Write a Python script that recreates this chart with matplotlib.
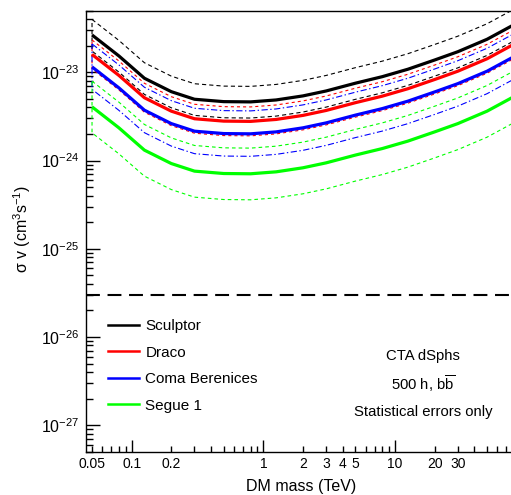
import numpy as np
import matplotlib
matplotlib.use('Agg')
import matplotlib.pyplot as plt
from matplotlib.lines import Line2D
from matplotlib.ticker import LogLocator, FixedLocator, FuncFormatter, NullFormatter

plt.rcParams['font.family'] = ['Liberation Sans', 'DejaVu Sans']
plt.rcParams['mathtext.fontset'] = 'custom'
plt.rcParams['mathtext.rm'] = 'Liberation Sans'
plt.rcParams['mathtext.it'] = 'Liberation Sans:italic'
plt.rcParams['lines.scale_dashes'] = False

# DM mass points (TeV)
mass = [0.05, 0.08, 0.125, 0.2, 0.3, 0.5, 0.8, 1.25, 2, 3, 5, 8, 12.5, 20, 30, 50, 80]

# log10(sigma v)
sculptor = [-22.576, -22.814, -23.067, -23.219, -23.305, -23.332, -23.335, -23.313, -23.267,
            -23.211, -23.123, -23.049, -22.965, -22.860, -22.766, -22.625, -22.460]
sculptor_hi = [-22.400, -22.638, -22.891, -23.043, -23.129, -23.156, -23.159, -23.137, -23.091,
               -23.035, -22.947, -22.873, -22.789, -22.684, -22.590, -22.449, -22.284]
sculptor_lo = [-22.759, -22.997, -23.250, -23.402, -23.488, -23.515, -23.518, -23.496, -23.450,
               -23.394, -23.306, -23.232, -23.148, -23.043, -22.949, -22.808, -22.643]

draco = [-22.797, -23.035, -23.288, -23.440, -23.526, -23.553, -23.556, -23.534, -23.488,
         -23.432, -23.344, -23.270, -23.186, -23.081, -22.987, -22.846, -22.681]
draco_hi = [-22.633, -22.871, -23.124, -23.276, -23.362, -23.389, -23.392, -23.370, -23.324,
            -23.268, -23.180, -23.106, -23.022, -22.917, -22.823, -22.682, -22.517]
draco_lo = [-22.961, -23.199, -23.452, -23.604, -23.690, -23.717, -23.720, -23.698, -23.652,
            -23.596, -23.508, -23.434, -23.350, -23.245, -23.151, -23.010, -22.845]

coma = [-22.938, -23.176, -23.429, -23.581, -23.667, -23.694, -23.697, -23.675, -23.629,
        -23.573, -23.485, -23.411, -23.327, -23.222, -23.128, -22.987, -22.822]
coma_hi = [-22.678, -22.916, -23.169, -23.321, -23.407, -23.434, -23.437, -23.415, -23.369,
           -23.313, -23.225, -23.151, -23.067, -22.962, -22.868, -22.727, -22.562]
coma_lo = [-23.193, -23.431, -23.684, -23.836, -23.922, -23.949, -23.952, -23.930, -23.884,
           -23.828, -23.740, -23.666, -23.582, -23.477, -23.383, -23.242, -23.077]

segue = [-23.391, -23.629, -23.882, -24.034, -24.120, -24.147, -24.150, -24.128, -24.082,
         -24.026, -23.938, -23.864, -23.780, -23.675, -23.581, -23.440, -23.275]
segue_hi = [-23.100, -23.338, -23.591, -23.743, -23.829, -23.856, -23.859, -23.837, -23.791,
            -23.735, -23.647, -23.573, -23.489, -23.384, -23.290, -23.149, -22.984]
segue_lo = [-23.686, -23.924, -24.177, -24.329, -24.415, -24.442, -24.445, -24.423, -24.377,
            -24.321, -24.233, -24.159, -24.075, -23.970, -23.876, -23.735, -23.570]

thermal = 3e-26

names = ['Sculptor', 'Draco', 'Coma Berenices', 'Segue 1']
colors = ['black', '#ff0000', '#0000ff', '#00ff00']
band_styles = [(0, (3.0, 2.2)), (0, (2.2, 2.2)), (0, (4.5, 1.8, 1.0, 1.8)), (0, (2.6, 2.2))]

fig = plt.figure(figsize=(5.11, 4.95), dpi=100)
W, H = 511.0, 495.0
ax = fig.add_axes([86 / W, 43.3 / H, 440.7 / W, 441 / H])

curves = [(sculptor, sculptor_hi, sculptor_lo), (draco, draco_hi, draco_lo),
          (coma, coma_hi, coma_lo), (segue, segue_hi, segue_lo)]

m = np.array(mass)
for (mid, hi, lo), c, ls in zip(curves, colors, band_styles):
    # band outline drawn as a closed polygon, like the original
    xs = np.concatenate([m, m[::-1], m[:1]])
    ys = 10 ** np.concatenate([hi, lo[::-1], hi[:1]])
    ax.plot(xs, ys, color=c, lw=0.8, linestyle=ls)
for (mid, hi, lo), c in zip(curves, colors):
    ax.plot(m, 10 ** np.array(mid), color=c, lw=2.3, solid_capstyle='butt')

ax.axhline(thermal, color='black', lw=1.5, linestyle=(0, (10, 5.5)))

ax.set_xscale('log')
ax.set_yscale('log')
ax.set_xlim(0.045, 100)
ax.set_ylim(5e-28, 5e-23)

ax.spines['right'].set_visible(False)
for s in ['left', 'bottom', 'top']:
    ax.spines[s].set_linewidth(1.0)

xlabels = {0.05: '0.05', 0.1: '0.1', 0.2: '0.2', 1: '1', 2: '2', 3: '3', 4: '4', 5: '5',
           10: '10', 20: '20', 30: '30'}

def xfmt(v, pos):
    for k, t in xlabels.items():
        if abs(v - k) / k < 1e-6:
            return t
    return ''

ax.xaxis.set_major_locator(FixedLocator([0.1, 1, 10]))
ax.xaxis.set_minor_locator(FixedLocator([k * d for d in [0.01, 0.1, 1, 10] for k in range(2, 10)
                                         if 0.045 <= k * d <= 100]))
ax.xaxis.set_major_formatter(FuncFormatter(xfmt))
ax.xaxis.set_minor_formatter(FuncFormatter(xfmt))

ydec = [1e-27, 1e-26, 1e-25, 1e-24, 1e-23]
ax.yaxis.set_major_locator(FixedLocator(ydec))
ax.yaxis.set_minor_locator(FixedLocator([k * d for d in [1e-28] + ydec for k in range(2, 10)
                                         if 5e-28 <= k * d <= 5e-23]))
ax.yaxis.set_major_formatter(FuncFormatter(lambda v, p: r'$\mathregular{10^{%d}}$' % round(np.log10(v))))
ax.yaxis.set_minor_formatter(NullFormatter())

ax.tick_params(axis='x', which='major', direction='in', length=8.5, width=1.0, labelsize=10, pad=4)
ax.tick_params(axis='x', which='minor', direction='in', length=4.3, width=1.0, labelsize=10, pad=4)
ax.tick_params(axis='y', which='major', direction='in', length=10, width=1.0, labelsize=11.5, pad=5)
ax.tick_params(axis='y', which='minor', direction='in', length=5, width=1.0)
ax.tick_params(top=False, right=False, which='both')

fig.text(301 / W, 1 - 486 / H, 'DM mass (TeV)', ha='center', va='center', fontsize=11.5)
fig.text(22 / W, 1 - 229 / H, r'$\mathregular{\sigma\ v\ (cm^{3}s^{-1})}$', ha='center', va='center',
         rotation=90, fontsize=11.5)

handles = [Line2D([], [], color=c, lw=1.8) for c in colors]
ax.legend(handles, names, loc='upper left', bbox_to_anchor=(108 / W, 1 - 319 / H),
          bbox_transform=fig.transFigure, frameon=False, fontsize=11, handlelength=2.0,
          handletextpad=0.45, labelspacing=0.82, borderpad=0, borderaxespad=0)

fig.text(423 / W, 1 - 356 / H, 'CTA dSphs', ha='center', va='center', fontsize=10.7)
fig.text(423 / W, 1 - 384 / H, r'500 h, b$\mathregular{\overline{b}}$', ha='center', va='center', fontsize=10.7)
fig.text(423 / W, 1 - 412 / H, 'Statistical errors only', ha='center', va='center', fontsize=10.7)

fig.savefig('out.png', dpi=100)
